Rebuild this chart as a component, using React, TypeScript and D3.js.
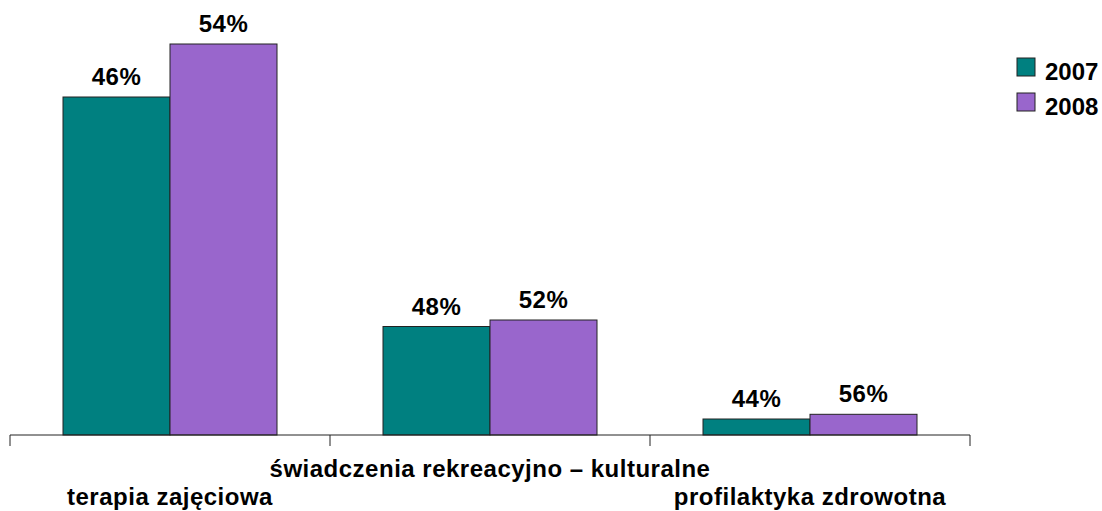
import React from "react";
import * as d3 from "d3";

const categories = [
  "terapia zajęciowa",
  "świadczenia rekreacyjno – kulturalne",
  "profilaktyka zdrowotna",
];
const years = ["2007", "2008"];
// bar heights (hidden value axis)
const values2007 = [338, 108.5, 16];
const values2008 = [391, 115, 20.7];
// labels printed above the bars
const labels2007 = ["46%", "48%", "44%"];
const labels2008 = ["54%", "52%", "56%"];
const colors = ["#008080", "#9966CC"];

const width = 1102;
const height = 511;
const baseY = 435;
const font = "'Liberation Sans', Arial, sans-serif";

export default function App() {
  const x = d3.scaleBand().domain(categories).range([10, 970]);
  const inner = d3
    .scaleBand()
    .domain(years)
    .range([53, x.bandwidth() - 53]);
  const y = d3.scaleLinear().domain([0, 400]).range([baseY, 35]);

  const series = [
    { year: years[0], vals: values2007, labels: labels2007, color: colors[0] },
    { year: years[1], vals: values2008, labels: labels2008, color: colors[1] },
  ];

  const ticks = [...categories.map((c) => x(c)!), 970];

  return (
    <svg
      width={width}
      height={height}
      style={{ position: "absolute", left: 0, top: 0, background: "#fff" }}
      fontFamily={font}
      fontWeight="bold"
    >
      {categories.map((c, i) => (
        <g key={c} transform={`translate(${x(c)},0)`}>
          {series.map((s) => (
            <g key={s.year}>
              <rect
                x={inner(s.year)}
                y={y(s.vals[i])}
                width={inner.bandwidth()}
                height={baseY - y(s.vals[i])}
                fill={s.color}
                stroke="#222"
                strokeWidth={1}
              />
              <text
                x={inner(s.year)! + inner.bandwidth() / 2}
                y={y(s.vals[i]) - 12}
                textAnchor="middle"
                fontSize={24}
                letterSpacing={0.5}
              >
                {s.labels[i]}
              </text>
            </g>
          ))}
          <text
            x={x.bandwidth() / 2}
            y={i === 1 ? 477 : 505}
            textAnchor="middle"
            fontSize={24}
            letterSpacing={0.5}
          >
            {c}
          </text>
        </g>
      ))}
      <line x1={10} x2={970} y1={baseY} y2={baseY} stroke="#222" />
      {ticks.map((t) => (
        <line key={t} x1={t} x2={t} y1={baseY} y2={baseY + 11} stroke="#222" />
      ))}
      {series.map((s, i) => (
        <g key={s.year} transform={`translate(1017,${58 + i * 35})`}>
          <rect width={18} height={18} fill={s.color} stroke="#222" />
          <text x={28} y={22} fontSize={24}>
            {s.year}
          </text>
        </g>
      ))}
    </svg>
  );
}
